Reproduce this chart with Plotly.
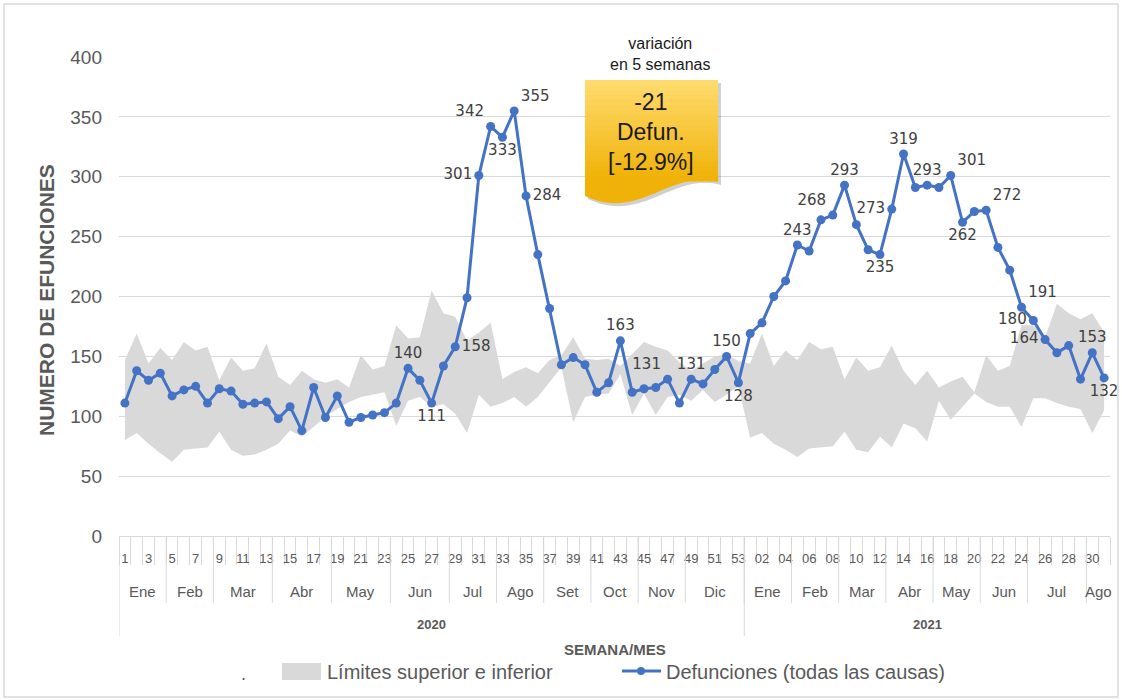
import plotly.graph_objects as go

# ---------------- data ----------------
weeks_2020 = [str(w) for w in range(1, 54)]
weeks_2021 = [f"{w:02d}" for w in range(1, 32)]

deaths_2020 = [111, 138, 130, 136, 117, 122, 125, 111, 123, 121, 110, 111, 112, 98, 108, 88,
               124, 99, 117, 95, 99, 101, 103, 111, 140, 130, 111, 142, 158, 199, 301, 342,
               333, 355, 284, 235, 190, 143, 149, 143, 120, 128, 163, 120, 123, 124, 131, 111,
               131, 127, 139, 150, 128]
deaths_2021 = [169, 178, 200, 213, 243, 238, 264, 268, 293, 260, 239, 235, 273, 319, 291, 293,
               291, 301, 262, 271, 272, 241, 222, 191, 180, 164, 153, 159, 131, 153, 132]

upper_2020 = [147, 169, 144, 157, 147, 162, 155, 158, 130, 149, 138, 140, 161, 133, 126, 138,
              131, 128, 131, 124, 151, 139, 142, 176, 165, 166, 205, 186, 183, 163, 170, 178,
              131, 137, 141, 136, 147, 151, 166, 148, 147, 148, 142, 152, 162, 158, 155, 145,
              138, 144, 150, 152, 146]
lower_2020 = [80, 86, 77, 69, 62, 72, 73, 74, 87, 72, 67, 68, 72, 77, 88, 83,
              91, 100, 106, 112, 116, 118, 120, 92, 113, 116, 108, 110, 102, 86, 118, 108,
              111, 116, 108, 116, 129, 141, 95, 116, 118, 119, 135, 101, 119, 101, 116, 118,
              113, 122, 112, 118, 125]
upper_2021 = [144, 169, 142, 155, 147, 162, 156, 158, 131, 149, 138, 141, 159, 138, 126, 138,
              124, 129, 133, 120, 151, 138, 142, 176, 176, 166, 194, 186, 181, 186, 170]
lower_2021 = [82, 86, 77, 72, 66, 73, 74, 75, 87, 72, 70, 83, 74, 94, 90, 79,
              113, 97, 108, 119, 112, 108, 108, 91, 115, 115, 111, 108, 106, 86, 105]

months_2020 = ["Ene", "Feb", "Mar", "Abr", "May", "Jun", "Jul", "Ago", "Set", "Oct", "Nov", "Dic"]
month_weeks_2020 = [4, 4, 5, 5, 5, 5, 4, 4, 4, 4, 4, 5]
months_2021 = ["Ene", "Feb", "Mar", "Abr", "May", "Jun", "Jul", "Ago"]
month_weeks_2021 = [4, 4, 4, 4, 4, 4, 5, 2]
years = ["2020", "2021"]

# -------------- derived --------------
labels = weeks_2020 + weeks_2021
deaths = deaths_2020 + deaths_2021
upper = upper_2020 + upper_2021
lower = lower_2020 + lower_2021
n = len(deaths)
x = list(range(n))

# which points carry a data label, and where
label_pos = {24: "top center", 26: "bottom center", 28: "middle right", 30: "middle left",
             31: "top left", 32: "bottom center", 33: "top right", 34: "middle right",
             42: "top center", 46: "top left", 48: "top center", 51: "top center",
             52: "bottom center", 57: "top center", 60: "top left", 61: "top center",
             64: "bottom center", 65: "middle left", 66: "top center", 68: "top center",
             70: "top right", 71: "bottom center", 73: "top right", 76: "top right",
             77: "middle left", 78: "middle left", 82: "top center", 83: "bottom center"}
texts = [str(deaths[i]) if i in label_pos else "" for i in x]
tpos = [label_pos.get(i, "top center") for i in x]

# pixel geometry of the plot area
L, R, T, B = 119, 1110, 57, 536
W, H = 1122, 700


def px(xp):
    return (xp - L) / (R - L)


def py(yp):
    return (B - yp) / (B - T)


GREY_TXT = "#595959"
BLUE = "#4472c4"
BAND = "#d9d9d9"

fig = go.Figure()
fig.add_trace(go.Scatter(x=x, y=lower, mode="lines", line=dict(width=0, color=BAND),
                         showlegend=False, hoverinfo="skip"))
fig.add_trace(go.Scatter(x=x, y=upper, mode="lines", line=dict(width=0, color=BAND),
                         fill="tonexty", fillcolor=BAND, showlegend=False, hoverinfo="skip"))
fig.add_trace(go.Scatter(x=x, y=deaths, mode="lines+markers+text",
                         line=dict(color=BLUE, width=3), marker=dict(color=BLUE, size=9),
                         text=texts, textposition=tpos, cliponaxis=False,
                         textfont=dict(family="DejaVu Sans", size=15, color="#404040"),
                         showlegend=False))

shapes = []
annotations = []


def note(xv, yv, text, size, color=GREY_TXT, xref="paper", yref="paper", xanchor="center",
         **kw):
    annotations.append(dict(x=xv, y=yv, xref=xref, yref=yref, text=text, showarrow=False,
                            xanchor=xanchor, yanchor="middle",
                            font=dict(family="Liberation Sans", size=size, color=color), **kw))


def sep(xv, ybot):
    shapes.append(dict(type="line", xref="x", yref="paper", x0=xv, x1=xv, y0=0, y1=py(ybot),
                       line=dict(color=BAND, width=1)))


start = 0
for mlist, mlen in ((months_2020, month_weeks_2020), (months_2021, month_weeks_2021)):
    for name, ln in zip(mlist, mlen):
        center = start + (ln - 1) / 2
        note(center, py(591), name, 15, xref="x")
        start += ln
        if start < n:
            sep(start - 0.5, 603)

sep(-0.5, 636)
sep(len(deaths_2020) - 0.5, 636)
note((len(deaths_2020) - 1) / 2, py(624), "<b>" + years[0] + "</b>", 13, xref="x")
note(len(deaths_2020) + (len(deaths_2021) - 1) / 2, py(624), "<b>" + years[1] + "</b>", 13,
     xref="x")

# axis titles
note(0.5, py(649), "<b>SEMANA/MES</b>", 15)
note(px(46), py(300), "<b>NUMERO DE EFUNCIONES</b>", 21, textangle=-90)

# legend (drawn manually)
note(px(243), py(674), ".", 18)
shapes.append(dict(type="rect", xref="paper", yref="paper", x0=px(282), x1=px(321),
                   y0=py(680), y1=py(663), fillcolor=BAND, line=dict(width=0)))
note(px(325), py(672), "Límites superior e inferior", 20, xanchor="left")
shapes.append(dict(type="line", xref="paper", yref="paper", x0=px(622), x1=px(661),
                   y0=py(671), y1=py(671), line=dict(color=BLUE, width=3)))
shapes.append(dict(type="circle", xref="paper", yref="paper", x0=px(637), x1=px(645),
                   y0=py(675), y1=py(667), fillcolor=BLUE, line=dict(width=0)))
note(px(664), py(672), "Defunciones (todas las causas)", 20, xanchor="left")


# callout box (document shape with gradient)
def path(pts_cmds):
    out = []
    for cmd, pts in pts_cmds:
        coords = " ".join(f"{px(a):.5f},{py(b):.5f}" for a, b in pts)
        out.append(f"{cmd}{coords}")
    return " ".join(out) + " Z"


bx0, bx1, by0 = 585, 718, 80
doc_path = path([("M", [(bx0, by0)]), ("L", [(bx1, by0)]), ("L", [(bx1, 182)]),
                  ("C", [(670, 168), (640, 222), (bx0, 196)])])
shadow_path = path([("M", [(bx0 + 3, by0 + 3)]), ("L", [(bx1 + 3, by0 + 3)]),
                    ("L", [(bx1 + 3, 185)]), ("C", [(673, 171), (643, 225), (bx0 + 3, 199)])])
shapes.append(dict(type="path", xref="paper", yref="paper", path=shadow_path,
                   fillcolor="rgba(120,120,120,0.35)", line=dict(width=0)))
shapes.append(dict(type="path", xref="paper", yref="paper", path=doc_path,
                   fillcolor="rgb(240,178,8)", line=dict(width=0)))
c0, c1 = (255, 219, 110), (240, 178, 8)
steps = 20
ytop, ybot = by0, 181
for k in range(steps):
    t = k / (steps - 1)
    col = tuple(round(c0[j] + (c1[j] - c0[j]) * t) for j in range(3))
    y_a = ytop + (ybot - ytop) * k / steps
    y_b = ytop + (ybot - ytop) * (k + 1) / steps + 0.6
    shapes.append(dict(type="rect", xref="paper", yref="paper", x0=px(bx0), x1=px(bx1),
                       y0=py(y_b), y1=py(y_a), fillcolor=f"rgb{col}", line=dict(width=0)))
note(px(651), py(132), "-21<br>Defun.<br>[-12.9%]", 23, color="#1a1a1a", align="center")
note(px(660), py(54), "variación<br>en 5 semanas", 16, color="#1a1a1a", align="center")

# outer border of chart
shapes.append(dict(type="rect", xref="paper", yref="paper", x0=px(4), x1=px(1118),
                   y0=py(697), y1=py(4), line=dict(color="#d9d9d9", width=1.5)))

fig.update_layout(
    width=W, height=H,
    margin=dict(l=L, r=W - R, t=T, b=H - B),
    paper_bgcolor="white", plot_bgcolor="white",
    shapes=shapes, annotations=annotations, showlegend=False,
    xaxis=dict(range=[-0.5, n - 0.5], tickmode="array", tickvals=x[::2], ticktext=labels[::2],
               tickangle=0, tickfont=dict(family="Liberation Sans", size=13, color=GREY_TXT),
               showgrid=False, zeroline=False, showline=True, linecolor=BAND, ticks="",
               ticklabelstandoff=10,
               minor=dict(tickmode="array", tickvals=[i - 0.5 for i in range(n + 1)],
                          ticks="outside", ticklen=28, tickcolor=BAND, tickwidth=1,
                          showgrid=False)),
    yaxis=dict(range=[0, 400], dtick=50, tickfont=dict(family="Liberation Sans", size=19,
                                                       color=GREY_TXT),
               showgrid=True, gridcolor=BAND, gridwidth=1, zeroline=False, showline=False,
               ticks="", ticklabelstandoff=16),
)

fig.write_html("out.html", config={"displayModeBar": False},
               post_script="document.body.style.margin='0px';")
